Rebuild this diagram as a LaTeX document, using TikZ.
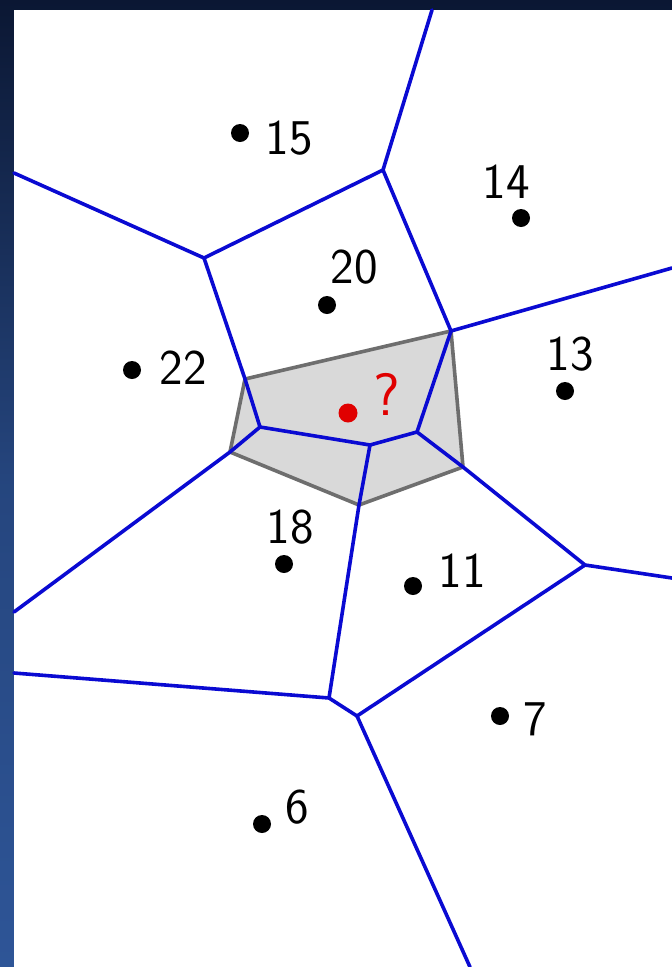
\documentclass[tikz,border=0pt]{standalone}
\usetikzlibrary{calc}
\definecolor{navy}{HTML}{0B1733}
\definecolor{bgblue}{HTML}{2E5597}
\definecolor{vblue}{HTML}{0A0AD2}
\definecolor{pgray}{HTML}{6E6E6E}
\definecolor{pfill}{HTML}{D9D9D9}
\definecolor{qred}{HTML}{E00000}
\begin{document}
\begin{tikzpicture}[x=1pt,y=-1pt,
  vedge/.style={draw=vblue,line width=3.6pt,line join=round,line cap=round},
  pedge/.style={draw=pgray,line width=3.6pt,line join=round},
  site/.style={circle,fill=black,inner sep=0pt,minimum size=18pt},
  lab/.style={inner sep=0pt,anchor=base,font=\fontsize{50}{60}\sffamily\selectfont}]
\useasboundingbox (0,0) rectangle (672,967);
\shade[top color=navy,bottom color=bgblue,middle color=bgblue!75!navy] (0,0) rectangle (672,967);
\fill[white] (14,10) rectangle (672,967);
% Voronoi vertices
\coordinate (T) at (432,10);
\coordinate (A) at (383,170);
\coordinate (B) at (204,258);
\coordinate (BL) at (14,173);
\coordinate (C) at (245,379);
\coordinate (D) at (260,427);
\coordinate (E) at (230,452);
\coordinate (EL) at (14,612);
\coordinate (F) at (370,445);
\coordinate (G) at (417,432);
\coordinate (H) at (451,331);
\coordinate (HR) at (672,268);
\coordinate (I) at (463,467);
\coordinate (J) at (359,505);
\coordinate (K) at (585,565);
\coordinate (KR) at (672,578);
\coordinate (L) at (357,716);
\coordinate (M) at (329,698);
\coordinate (ML) at (14,673);
\coordinate (LB) at (470,967);
% gray polygon
\filldraw[pedge,fill=pfill] (C) -- (H) -- (I) -- (J) -- (E) -- cycle;
% blue edges
\draw[vedge] (T) -- (A) -- (B) -- (BL);
\draw[vedge] (A) -- (H) -- (HR);
\draw[vedge] (B) -- (C) -- (D) -- (E) -- (EL);
\draw[vedge] (D) -- (F) -- (G) -- (H);
\draw[vedge] (G) -- (I) -- (K) -- (KR);
\draw[vedge] (F) -- (J) -- (M) -- (ML);
\draw[vedge] (K) -- (L) -- (LB);
\draw[vedge] (M) -- (L);
% sites
\node[site] (s15) at (240,133) {};
\node[site] (s14) at (521,218) {};
\node[site] (s20) at (327,305) {};
\node[site] (s22) at (132,370) {};
\node[site] (s13) at (565,391) {};
\node[site] (s18) at (284,564) {};
\node[site] (s11) at (413,586) {};
\node[site] (s7) at (500,716) {};
\node[site] (s6) at (262,824) {};
\node[site,fill=qred,minimum size=19pt] (q) at (348,413) {};
% labels
\node[lab] (l15) at (289,154) {15};
\node[lab] (l14) at (506,198) {14};
\node[lab] (l20) at (354,283) {20};
\node[lab] (l22) at (183,384) {22};
\node[lab] (l13) at (570,370) {13};
\node[lab] (l18) at (290,543) {18};
\node[lab] (l11) at (462,587) {11};
\node[lab] (l7) at (535,735) {7};
\node[lab] (l6) at (297,823) {6};
\node[lab,text=qred,font=\fontsize{60}{70}\sffamily\selectfont] (lq) at (387,415) {?};
\end{tikzpicture}
\end{document}
